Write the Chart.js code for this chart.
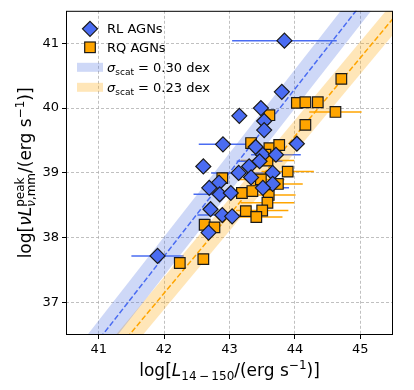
<!DOCTYPE html>
<html>
<head>
<meta charset="utf-8">
<script src="https://cdn.jsdelivr.net/npm/chart.js@4.4.1/dist/chart.umd.min.js"></script>
<style>
  html, body { margin: 0; padding: 0; background: #fff; }
</style>
</head>
<body>
<canvas id="chart" width="414" height="390"></canvas>
<script>
// Axis ticks
const xTicks = [41, 42, 43, 44, 45];
const yTicks = [37, 38, 39, 40, 41];

// RL AGNs (blue diamonds)
const rlX    = [43.84, 43.80, 43.48, 43.15, 43.53, 43.53, 42.90, 44.03, 43.40, 43.51, 43.71, 43.46, 42.60, 43.30, 43.14, 43.66, 43.33, 42.84, 43.66, 42.69, 43.51, 42.85, 43.02, 42.71, 42.89, 43.04, 42.68, 41.90];
const rlY    = [41.04, 40.25, 40.00, 39.88, 39.80, 39.66, 39.44, 39.45, 39.40, 39.28, 39.28, 39.18, 39.10, 39.10, 39.00, 39.00, 38.93, 38.85, 38.83, 38.77, 38.77, 38.67, 38.69, 38.44, 38.35, 38.33, 38.08, 37.72];
const rlXerr = [0.80, 0, 0, 0, 0, 0, 0.37, 0, 0, 0, 0.38, 0.35, 0, 0, 0.42, 0, 0, 0, 0, 0, 0.40, 0.40, 0, 0, 0.38, 0, 0, 0.40];

// RQ AGNs (orange squares)
const rqX    = [44.71, 44.03, 44.16, 44.35, 44.62, 43.61, 44.16, 43.33, 43.61, 43.76, 43.55, 43.58, 43.89, 42.89, 43.48, 43.74, 43.19, 43.35, 43.60, 43.58, 43.25, 43.50, 43.41, 42.62, 42.77, 42.24, 42.60];
const rqY    = [40.45, 40.08, 40.09, 40.09, 39.94, 39.89, 39.74, 39.46, 39.38, 39.43, 39.28, 39.19, 39.02, 38.92, 38.90, 38.83, 38.69, 38.72, 38.66, 38.54, 38.41, 38.42, 38.32, 38.20, 38.16, 37.61, 37.67];
const rqXerr = [0, 0, 0, 0, 0.40, 0, 0, 0, 0, 0, 0, 0.41, 0.40, 0, 0.36, 0.38, 0, 0, 0.41, 0.41, 0, 0.40, 0.40, 0, 0, 0, 0];

// Fit lines (end points) and scatter bands
const fitX    = [40.5, 45.5];
const rlFitY  = [35.78, 42.23];
const rqFitY  = [35.33, 41.38];
const rlBand  = 0.30;
const rqBand  = 0.25;
const rlSigmaLabel = '0.30';
const rqSigmaLabel = '0.23';

const BLUE = '#4a6cf2';
const ORANGE = '#ffa500';
const BLUE_BAND = 'rgba(65,105,225,0.26)';
const ORANGE_BAND = 'rgba(255,165,0,0.28)';
const FONT = '"DejaVu Sans"';

const pts = (xs, ys) => xs.map((x, i) => ({ x: x, y: ys[i] }));
const shift = (ys, d) => ys.map(v => v + d);

// horizontal error bars, drawn under the markers
const errorBars = {
    id: 'errorBars',
    beforeDatasetsDraw(chart) {
        const { ctx, chartArea, scales } = chart;
        const sets = [[rqX, rqY, rqXerr, ORANGE], [rlX, rlY, rlXerr, BLUE]];
        ctx.save();
        ctx.beginPath();
        ctx.rect(chartArea.left, chartArea.top, chartArea.width, chartArea.height);
        ctx.clip();
        ctx.lineWidth = 1.5;
        sets.forEach(([xs, ys, errs, color]) => {
            ctx.strokeStyle = color;
            xs.forEach((x, i) => {
                if (!errs[i]) return;
                const py = scales.y.getPixelForValue(ys[i]);
                ctx.beginPath();
                ctx.moveTo(scales.x.getPixelForValue(x - errs[i]), py);
                ctx.lineTo(scales.x.getPixelForValue(x + errs[i]), py);
                ctx.stroke();
            });
        });
        ctx.restore();
    }
};

// rich text helpers (sub/superscripts)
function fontOf(p) { return (p.it ? 'italic ' : '') + p.s + 'px ' + FONT; }
function partWidth(ctx, p) {
    if (p.stack) return Math.max(...p.stack.map(s => seqWidth(ctx, s.parts)));
    ctx.font = fontOf(p);
    return ctx.measureText(p.t).width;
}
function seqWidth(ctx, parts) { return parts.reduce((w, p) => w + partWidth(ctx, p), 0); }
function drawSeq(ctx, parts, x, y) {
    parts.forEach(p => {
        if (p.stack) {
            p.stack.forEach(s => drawSeq(ctx, s.parts, x, y + s.dy));
        } else {
            ctx.font = fontOf(p);
            ctx.fillText(p.t, x, y + (p.dy || 0));
        }
        x += partWidth(ctx, p);
    });
}

const xTitle = [
    { t: 'log[', s: 17 }, { t: 'L', s: 17, it: 1 }, { t: '14\u2009\u2212\u2009150', s: 12, dy: 3.5 },
    { t: '/(erg s', s: 17 }, { t: '\u22121', s: 12, dy: -7 }, { t: ')]', s: 17 }
];
const yTitle = [
    { t: 'log[', s: 17 }, { t: '\u03bd', s: 17, it: 1 }, { t: 'L', s: 17, it: 1 },
    { stack: [
        { dy: -7.5, parts: [{ t: 'peak', s: 12 }] },
        { dy: 4, parts: [{ t: '\u03bd', s: 12, it: 1 }, { t: ',mm', s: 12 }] }
    ] },
    { t: '/(erg s', s: 17 }, { t: '\u22121', s: 12, dy: -7 }, { t: ')]', s: 17 }
];
const sigmaText = v => [
    { t: '\u03c3', s: 13, it: 1 }, { t: 'scat', s: 9, dy: 3 }, { t: ' = ' + v + ' dex', s: 13 }
];

const decorations = {
    id: 'decorations',
    afterDraw(chart) {
        const { ctx, chartArea: a } = chart;
        ctx.save();
        // frame
        ctx.strokeStyle = '#000';
        ctx.lineWidth = 1;
        ctx.strokeRect(a.left + 0.5, a.top + 0.5, a.width - 1, a.height - 1);

        ctx.fillStyle = '#000';
        ctx.textBaseline = 'alphabetic';
        ctx.textAlign = 'left';
        // axis titles
        const cx = (a.left + a.right) / 2;
        drawSeq(ctx, xTitle, cx - seqWidth(ctx, xTitle) / 2, 376);
        const cy = (a.top + a.bottom) / 2;
        ctx.save();
        ctx.translate(31, cy);
        ctx.rotate(-Math.PI / 2);
        drawSeq(ctx, yTitle, -seqWidth(ctx, yTitle) / 2, 0);
        ctx.restore();

        // legend
        const mx = a.left + 24;
        ctx.lineWidth = 1.2;
        ctx.strokeStyle = '#1a1a1a';
        ctx.fillStyle = BLUE;
        ctx.beginPath();
        ctx.moveTo(mx, a.top + 10.5); ctx.lineTo(mx + 7.5, a.top + 18);
        ctx.lineTo(mx, a.top + 25.5); ctx.lineTo(mx - 7.5, a.top + 18);
        ctx.closePath(); ctx.fill(); ctx.stroke();
        ctx.fillStyle = ORANGE;
        ctx.fillRect(mx - 5.3, a.top + 31.2, 10.6, 10.6);
        ctx.strokeRect(mx - 5.3, a.top + 31.2, 10.6, 10.6);
        ctx.fillStyle = BLUE_BAND;
        ctx.fillRect(a.left + 11, a.top + 52, 26, 9);
        ctx.fillStyle = ORANGE_BAND;
        ctx.fillRect(a.left + 11, a.top + 72, 26, 9);

        ctx.fillStyle = '#000';
        const tx = a.left + 41;
        ctx.font = '13px ' + FONT;
        ctx.fillText('RL AGNs', tx, a.top + 22.5);
        ctx.fillText('RQ AGNs', tx, a.top + 41);
        drawSeq(ctx, sigmaText(rlSigmaLabel), tx, a.top + 61);
        drawSeq(ctx, sigmaText(rqSigmaLabel), tx, a.top + 81);
        ctx.restore();
    }
};

const lineSet = (ys, color, extra) => Object.assign({
    data: pts(fitX, ys), showLine: true, pointRadius: 0, borderWidth: 0,
    borderColor: color, backgroundColor: color, fill: false
}, extra);

const axis = (min, max, ticks, fit) => ({
    type: 'linear', min: min, max: max,
    afterBuildTicks: s => { s.ticks = ticks.map(v => ({ value: v })); },
    afterFit: fit,
    grid: { color: '#b0b0b0', lineWidth: 0.8, tickColor: '#000', tickLength: 4, tickWidth: 1, tickBorderDash: [] },
    border: { display: false, dash: [3, 2] },
    ticks: { color: '#000', font: { family: FONT, size: 13 }, padding: 3, maxRotation: 0, autoSkip: false }
});

new Chart(document.getElementById('chart'), {
    type: 'scatter',
    data: {
        datasets: [
            { label: 'RL AGNs', data: pts(rlX, rlY), pointStyle: 'rectRot', pointRadius: 7.5,
              backgroundColor: BLUE, borderColor: '#1a1a1a', borderWidth: 1.2 },
            { label: 'RQ AGNs', data: pts(rqX, rqY), pointStyle: 'rect', pointRadius: 7.5,
              backgroundColor: ORANGE, borderColor: '#1a1a1a', borderWidth: 1.2 },
            lineSet(rlFitY, BLUE, { borderWidth: 1.5, borderDash: [5.5, 2.4] }),
            lineSet(rqFitY, ORANGE, { borderWidth: 1.5, borderDash: [5.5, 2.4] }),
            lineSet(shift(rlFitY, rlBand), BLUE_BAND, { fill: '+1' }),
            lineSet(shift(rlFitY, -rlBand), BLUE_BAND),
            lineSet(shift(rqFitY, rqBand), ORANGE_BAND, { fill: '+1' }),
            lineSet(shift(rqFitY, -rqBand), ORANGE_BAND)
        ]
    },
    options: {
        responsive: false,
        animation: false,
        devicePixelRatio: 1,
        layout: { padding: { top: 7, right: 21, left: 0, bottom: 0 } },
        scales: {
            x: axis(40.5, 45.5, xTicks, s => { s.height = 55; }),
            y: axis(36.5, 41.5, yTicks, s => { s.width = 66; })
        },
        plugins: { legend: { display: false }, tooltip: { enabled: false } }
    },
    plugins: [errorBars, decorations]
});
</script>
</body>
</html>
